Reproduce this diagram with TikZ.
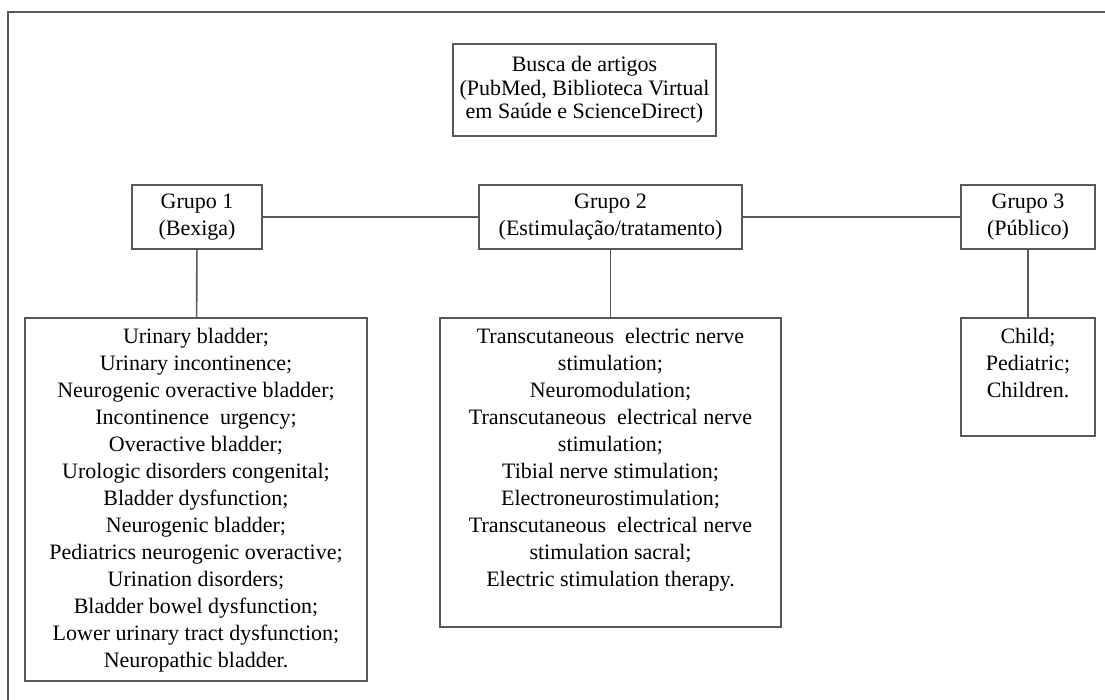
\documentclass[tikz,border=0pt]{standalone}
\usepackage{fontspec}
\setmainfont{Liberation Serif}
\usepackage{tikz}
\usetikzlibrary{positioning}

\newcommand{\listabox}[3]{\parbox[t][#2][t]{#1}{\centering\rule{0pt}{13pt}#3}}

\tikzset{
	caixa/.style={draw=black!65, line width=0.8pt, align=center,
		font=\fontsize{11}{13.5}\selectfont},
	lista/.style={caixa, anchor=north, inner sep=0pt},
	liga/.style={draw=black!65, line width=0.8pt}
}

\begin{document}
\begin{tikzpicture}[x=0.5pt,y=-0.5pt]
		\useasboundingbox (0,0) rectangle (1105,700);
		% moldura
		\draw[liga] (8,700) |- (1105,12);
		% busca
		\node[caixa, minimum width=127.5pt, minimum height=46pt,
		font=\fontsize{11}{11.8}\selectfont] (busca) at (584.5,90)
		{Busca de artigos\\(PubMed, Biblioteca Virtual\\em Saúde e ScienceDirect)};
		% grupos
		\node[caixa, minimum width=65pt, minimum height=32pt] (g1) at (197,217)
		{Grupo 1\\(Bexiga)};
		\node[caixa, minimum width=131.5pt, minimum height=32pt] (g2) at (610.5,217)
		{Grupo 2\\(Estimulação/tratamento)};
		\node[caixa, minimum width=67pt, minimum height=32pt] (g3) at (1028,217)
		{Grupo 3\\(Público)};
		% termos
		\node[lista] (t1) at (196,317) {\listabox{171pt}{181.5pt}{%
			Urinary bladder;\\
			Urinary incontinence;\\
			Neurogenic overactive bladder;\\
			Incontinence\ \ urgency;\\
			Overactive bladder;\\
			Urologic disorders congenital;\\
			Bladder dysfunction;\\
			Neurogenic bladder;\\
			Pediatrics neurogenic overactive;\\
			Urination disorders;\\
			Bladder bowel dysfunction;\\
			Lower urinary tract dysfunction;\\
			Neuropathic bladder.}};
		\node[lista] (t2) at (610.5,317) {\listabox{170.5pt}{154.5pt}{%
			Transcutaneous\ \ electric nerve\\
			stimulation;\\
			Neuromodulation;\\
			Transcutaneous\ \ electrical nerve\\
			stimulation;\\
			Tibial nerve stimulation;\\
			Electroneurostimulation;\\
			Transcutaneous\ \ electrical nerve\\
			stimulation sacral;\\
			Electric stimulation therapy.}};
		\node[lista] (t3) at (1028,317) {\listabox{67pt}{59pt}{%
			Child;\\
			Pediatric;\\
			Children.}};
		% ligacoes
		\draw[liga] (g1) -- (g2);
		\draw[liga] (g2) -- (g3);
		\draw[liga] (g1) -- (t1);
		\draw[liga] (g2) -- (t2);
		\draw[liga] (g3) -- (t3);
\end{tikzpicture}
\end{document}
